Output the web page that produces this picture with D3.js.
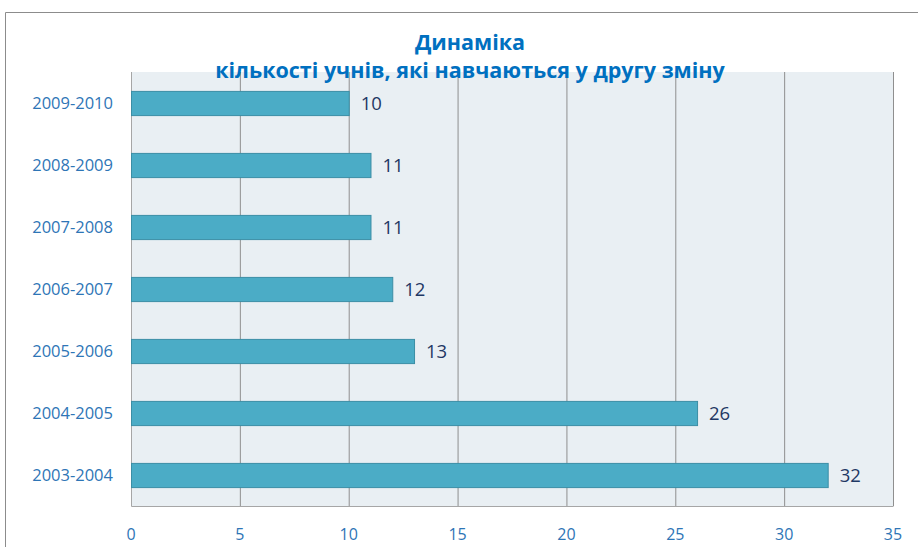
<!DOCTYPE html>
<html>
<head>
<meta charset="utf-8">
<script src="https://cdn.jsdelivr.net/npm/d3@7"></script>
<style>
  body { margin: 0; background: #fff; }
  text { font-family: "Open Sans", "Noto Sans", sans-serif; }
</style>
</head>
<body>
<svg id="chart" width="918" height="547"></svg>
<script>
// data
const years = ['2009-2010', '2008-2009', '2007-2008', '2006-2007', '2005-2006', '2004-2005', '2003-2004'];
const pupils = [10, 11, 11, 12, 13, 26, 32];
const xTicks = [0, 5, 10, 15, 20, 25, 30, 35];
const titleLines = ['Динаміка', 'кількості учнів, які навчаються у другу зміну'];

const svg = d3.select('#chart');
const plotL = 131, plotR = 893, plotT = 72, plotB = 506;

// outer frame
svg.append('path')
  .attr('d', 'M5.5,547 V12.5 H918')
  .attr('fill', 'none')
  .attr('stroke', '#8c8c8c')
  .attr('stroke-width', 1);

const x = d3.scaleLinear().domain([0, 35]).range([plotL, plotR]);
const y = d3.scaleBand().domain(years).range([plotT, plotB]).paddingInner(0.61).paddingOuter(0.305);

// plot area
svg.append('rect')
  .attr('x', plotL).attr('y', plotT)
  .attr('width', plotR - plotL).attr('height', plotB - plotT)
  .attr('fill', '#e9eff3');

// grid
svg.append('g').selectAll('line').data(xTicks.slice(1))
  .join('line')
  .attr('x1', d => x(d) + 0.5).attr('x2', d => x(d) + 0.5)
  .attr('y1', plotT).attr('y2', plotB)
  .attr('stroke', '#8f8f8f');

// plot border (left, bottom)
svg.append('path')
  .attr('d', `M${plotL + 0.5},${plotT} V${plotB + 0.5} H${plotR + 0.5}`)
  .attr('fill', 'none')
  .attr('stroke', '#a6a6a6');

// bars
svg.append('g').selectAll('rect').data(pupils)
  .join('rect')
  .attr('x', plotL + 0.5)
  .attr('y', (d, i) => y(years[i]) + 0.5)
  .attr('width', d => x(d) - plotL)
  .attr('height', y.bandwidth())
  .attr('fill', '#4bacc6')
  .attr('stroke', '#3b8ea5')
  .attr('stroke-width', 1);

// value labels
svg.append('g').selectAll('text').data(pupils)
  .join('text')
  .attr('x', d => x(d) + 12)
  .attr('y', (d, i) => y(years[i]) + y.bandwidth() / 2)
  .attr('dy', '0.36em')
  .attr('fill', '#1f3864')
  .attr('font-size', 18.5)
  .text(d => d);

// category labels
svg.append('g').selectAll('text').data(years)
  .join('text')
  .attr('x', 113)
  .attr('y', d => y(d) + y.bandwidth() / 2)
  .attr('dy', '0.36em')
  .attr('text-anchor', 'end')
  .attr('fill', '#2e75b6')
  .attr('font-size', 16.5)
  .text(d => d);

// x tick labels
svg.append('g').selectAll('text').data(xTicks)
  .join('text')
  .attr('x', d => x(d))
  .attr('y', 534)
  .attr('dy', '0.36em')
  .attr('text-anchor', 'middle')
  .attr('fill', '#2e75b6')
  .attr('font-size', 16)
  .text(d => d);

// title
svg.append('g').selectAll('text').data(titleLines)
  .join('text')
  .attr('x', 470)
  .attr('y', (d, i) => 42 + i * 28)
  .attr('dy', '0.36em')
  .attr('text-anchor', 'middle')
  .attr('fill', '#0070c0')
  .attr('font-weight', 'bold')
  .attr('font-size', 21.5)
  .text(d => d);
</script>
</body>
</html>
